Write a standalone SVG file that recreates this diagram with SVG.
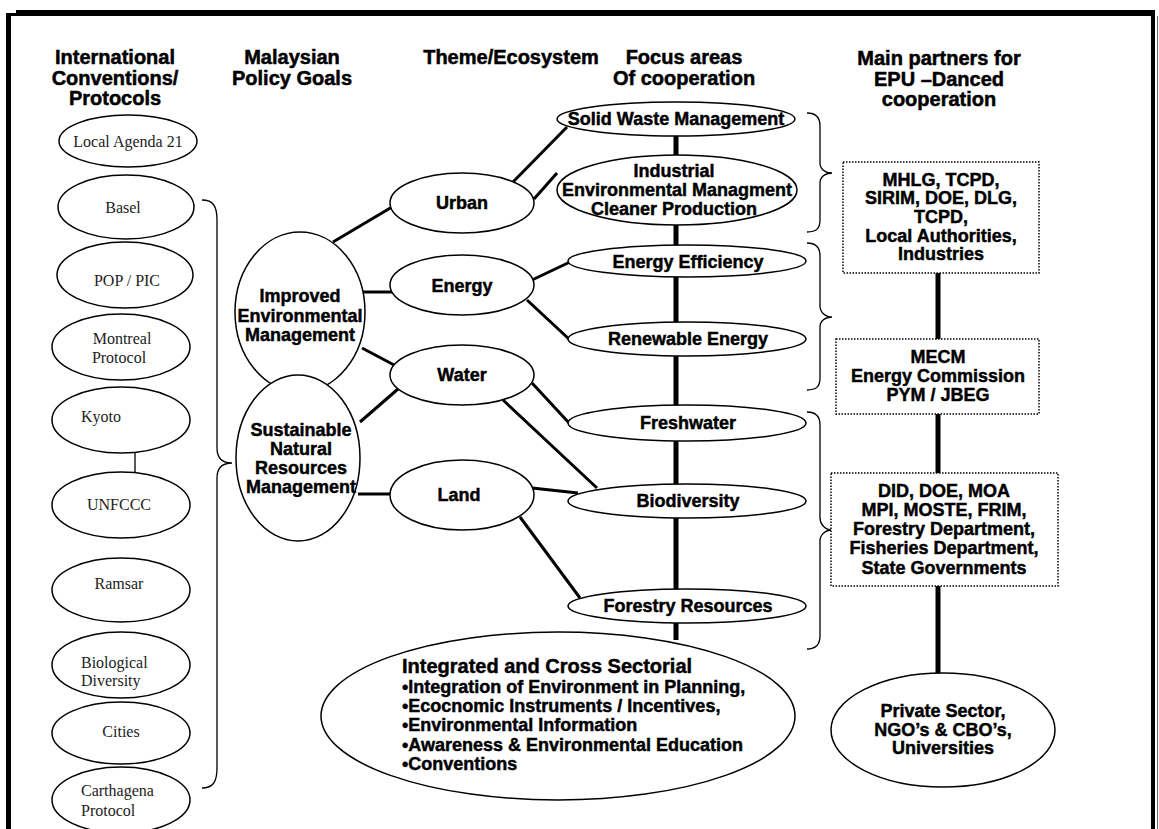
<svg xmlns="http://www.w3.org/2000/svg" width="1159" height="829" viewBox="0 0 1159 829">
<defs>
<style>
.h{font-family:"Liberation Sans",Arial,sans-serif;font-weight:bold;font-size:20px;text-anchor:middle;fill:#000;stroke:#000;stroke-width:0.5}
.b{font-family:"Liberation Sans",Arial,sans-serif;font-weight:bold;font-size:18px;text-anchor:middle;fill:#000;stroke:#000;stroke-width:0.45}
.bl{font-family:"Liberation Sans",Arial,sans-serif;font-weight:bold;font-size:18px;fill:#000;stroke:#000;stroke-width:0.45}
.t{font-family:"Liberation Serif","Times New Roman",serif;font-size:16px;text-anchor:middle;fill:#222}
.tl{font-family:"Liberation Serif","Times New Roman",serif;font-size:16px;fill:#222}
.e{fill:#fff;stroke:#000;stroke-width:1.5}
.box{fill:#fff;stroke:#000;stroke-width:1.5;stroke-dasharray:1.5 1.5}
.c{stroke:#000;stroke-width:3;fill:none}
.ck{stroke:#000;stroke-width:5;fill:none}
.br{stroke:#000;stroke-width:1.3;fill:none}
</style>
</defs>
<rect width="1159" height="829" fill="#fff"/>
<g id="frame">
<rect x="16" y="10" width="1139" height="6" fill="#000"/>
<rect x="6" y="13" width="11" height="3" fill="#000"/>
<rect x="6" y="13" width="5" height="816" fill="#000"/>
<rect x="1151" y="10" width="4" height="819" fill="#000"/>
<line x1="1157.5" y1="16" x2="1157.5" y2="829" stroke="#666" stroke-width="1"/>
</g>
<g id="headers">
<text class="h" x="115" y="64">International</text>
<text class="h" x="115" y="85">Conventions/</text>
<text class="h" x="115" y="105">Protocols</text>
<text class="h" x="292" y="64">Malaysian</text>
<text class="h" x="292" y="85">Policy Goals</text>
<text class="h" x="511" y="64">Theme/Ecosystem</text>
<text class="h" x="684" y="64">Focus areas</text>
<text class="h" x="684" y="85">Of cooperation</text>
<text class="h" x="939" y="65">Main partners for</text>
<text class="h" x="939" y="86">EPU –Danced</text>
<text class="h" x="939" y="106">cooperation</text>
</g>
<g id="connectors">
<line class="br" x1="135" y1="453" x2="135" y2="473"/>
<line class="c" x1="333" y1="242" x2="392" y2="207"/>
<line class="c" x1="513" y1="182" x2="567" y2="127"/>
<line class="c" x1="534" y1="199" x2="557" y2="173"/>
<line class="c" x1="363" y1="292" x2="392" y2="292"/>
<line class="c" x1="532" y1="280" x2="570" y2="262"/>
<line class="c" x1="527" y1="300" x2="570" y2="340"/>
<line class="c" x1="362" y1="348" x2="396" y2="366"/>
<line class="c" x1="360" y1="422" x2="398" y2="389"/>
<line class="c" x1="358" y1="494" x2="392" y2="494"/>
<line class="c" x1="532" y1="383" x2="570" y2="424"/>
<line class="c" x1="503" y1="400" x2="597" y2="488"/>
<line class="c" x1="532" y1="488" x2="578" y2="493"/>
<line class="c" x1="520" y1="517" x2="580" y2="598"/>
<line class="ck" x1="676" y1="130" x2="676" y2="640"/>
<line class="ck" x1="938" y1="270" x2="938" y2="342"/>
<line class="ck" x1="938" y1="412" x2="938" y2="476"/>
<line class="ck" x1="938" y1="584" x2="938" y2="677"/>
<path class="br" d="M202,200 C213,200 217,206 217,220 L217,448 C217,458 222,463 232,463 C222,463 217,468 217,478 L217,768 C217,782 213,788 202,788"/>
<path class="br" d="M807,113 C816,113 820,117 820,126 L820,163 C820,169 825,173 832,173 C825,173 820,177 820,183 L820,220 C820,229 816,232 807,232"/>
<path class="br" d="M807,243 C816,243 820,247 820,256 L820,306 C820,312 825,317 832,317 C825,317 820,321 820,327 L820,378 C820,387 816,390 807,390"/>
<path class="br" d="M807,412 C816,412 820,416 820,425 L820,518 C820,524 825,530 832,530 C825,530 820,535 820,541 L820,636 C820,645 816,649 807,649"/>
</g>
<g id="n-la21"><ellipse class="e" cx="128" cy="141" rx="69" ry="26"/><text class="t" x="128" y="147">Local Agenda 21</text></g>
<g id="n-basel"><ellipse class="e" cx="126" cy="207" rx="68" ry="32"/><text class="t" x="123" y="213">Basel</text></g>
<g id="n-pop"><ellipse class="e" cx="125" cy="275" rx="68" ry="33"/><text class="t" x="127" y="286">POP / PIC</text></g>
<g id="n-montreal"><ellipse class="e" cx="121" cy="347" rx="69" ry="33"/><text class="t" x="122" y="344">Montreal</text><text class="t" x="119" y="363">Protocol</text></g>
<g id="n-kyoto"><ellipse class="e" cx="121" cy="420" rx="69" ry="33"/><text class="tl" x="81" y="422">Kyoto</text></g>
<g id="n-unfccc"><ellipse class="e" cx="121" cy="505" rx="69" ry="33"/><text class="t" x="119" y="510">UNFCCC</text></g>
<g id="n-ramsar"><ellipse class="e" cx="121" cy="590" rx="69" ry="32"/><text class="t" x="119" y="589">Ramsar</text></g>
<g id="n-bio"><ellipse class="e" cx="121" cy="665" rx="69" ry="33"/><text class="tl" x="81" y="668">Biological</text><text class="tl" x="81" y="686">Diversity</text></g>
<g id="n-cities"><ellipse class="e" cx="121" cy="733" rx="69" ry="31"/><text class="t" x="121" y="737">Cities</text></g>
<g id="n-carthagena"><ellipse class="e" cx="121" cy="800" rx="69" ry="33"/><text class="tl" x="81" y="796">Carthagena</text><text class="tl" x="81" y="816">Protocol</text></g>
<g id="n-improved"><ellipse class="e" cx="300" cy="312" rx="65" ry="80"/><text class="b" x="300" y="302">Improved</text><text class="b" x="300" y="322">Environmental</text><text class="b" x="300" y="341">Management</text></g>
<g id="n-sustainable"><ellipse class="e" cx="298" cy="458" rx="62" ry="83"/><text class="b" x="301" y="436">Sustainable</text><text class="b" x="301" y="455">Natural</text><text class="b" x="301" y="474">Resources</text><text class="b" x="301" y="493">Management</text></g>
<g id="n-urban"><ellipse class="e" cx="462" cy="203" rx="72" ry="30"/><text class="b" x="462" y="209">Urban</text></g>
<g id="n-energy"><ellipse class="e" cx="462" cy="285" rx="72" ry="30"/><text class="b" x="462" y="292">Energy</text></g>
<g id="n-water"><ellipse class="e" cx="462" cy="375" rx="72" ry="30"/><text class="b" x="462" y="381">Water</text></g>
<g id="n-land"><ellipse class="e" cx="462" cy="495" rx="72" ry="35"/><text class="b" x="459" y="501">Land</text></g>
<g id="n-swm"><ellipse class="e" cx="676" cy="119" rx="119" ry="17"/><text class="b" x="676" y="125">Solid Waste Management</text></g>
<g id="n-industrial"><ellipse class="e" cx="677" cy="190" rx="120" ry="35"/><text class="b" x="674" y="177">Industrial</text><text class="b" x="677" y="196">Environmental Managment</text><text class="b" x="674" y="215">Cleaner Production</text></g>
<g id="n-ee"><ellipse class="e" cx="687" cy="261" rx="119" ry="16"/><text class="b" x="688" y="268">Energy Efficiency</text></g>
<g id="n-re"><ellipse class="e" cx="687" cy="339" rx="119" ry="17"/><text class="b" x="688" y="345">Renewable Energy</text></g>
<g id="n-fresh"><ellipse class="e" cx="687" cy="423" rx="119" ry="18"/><text class="b" x="688" y="429">Freshwater</text></g>
<g id="n-biodiv"><ellipse class="e" cx="687" cy="501" rx="119" ry="17"/><text class="b" x="688" y="507">Biodiversity</text></g>
<g id="n-forestry"><ellipse class="e" cx="687" cy="606" rx="119" ry="17"/><text class="b" x="688" y="612">Forestry Resources</text></g>
<g id="n-integrated"><ellipse class="e" cx="558" cy="716" rx="237" ry="84"/>
<text class="bl" x="402" y="673" style="font-size:20px">Integrated and Cross Sectorial</text>
<text class="bl" x="402" y="693">•Integration of Environment in Planning,</text>
<text class="bl" x="402" y="712">•Ecocnomic Instruments / Incentives,</text>
<text class="bl" x="402" y="731">•Environmental Information</text>
<text class="bl" x="402" y="751">•Awareness &amp; Environmental Education</text>
<text class="bl" x="402" y="770">•Conventions</text>
</g>
<g id="n-mhlg"><rect class="box" x="843" y="162" width="196" height="111"/><text class="b" x="941" y="186">MHLG, TCPD,</text><text class="b" x="941" y="204">SIRIM, DOE, DLG,</text><text class="b" x="941" y="223">TCPD,</text><text class="b" x="941" y="242">Local Authorities,</text><text class="b" x="941" y="260">Industries</text></g>
<g id="n-mecm"><rect class="box" x="836" y="339" width="203" height="75"/><text class="b" x="938" y="363">MECM</text><text class="b" x="938" y="382">Energy Commission</text><text class="b" x="938" y="401">PYM / JBEG</text></g>
<g id="n-did"><rect class="box" x="831" y="473" width="227" height="113"/><text class="b" x="944" y="497">DID, DOE, MOA</text><text class="b" x="944" y="516">MPI, MOSTE, FRIM,</text><text class="b" x="944" y="535">Forestry Department,</text><text class="b" x="944" y="554">Fisheries Department,</text><text class="b" x="944" y="574">State Governments</text></g>
<g id="n-private"><ellipse class="e" cx="943" cy="730" rx="112" ry="57"/><text class="b" x="943" y="717">Private Sector,</text><text class="b" x="943" y="736">NGO’s &amp; CBO’s,</text><text class="b" x="943" y="754">Universities</text></g>
</svg>
